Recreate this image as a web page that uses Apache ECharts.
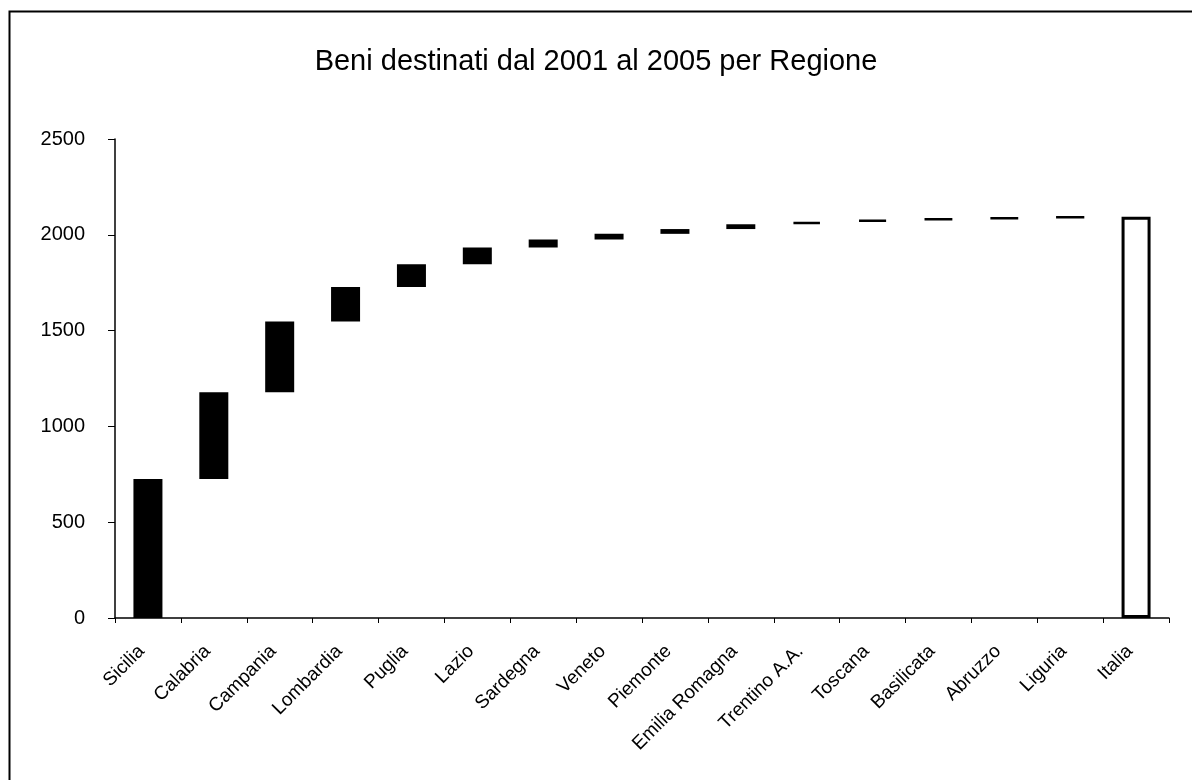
<!DOCTYPE html>
<html>
<head>
<meta charset="utf-8">
<script src="https://cdn.jsdelivr.net/npm/echarts@6/dist/echarts.min.js"></script>
<style>
html,body{margin:0;padding:0;background:#fff;}
#chart{width:1192px;height:780px;}
</style>
</head>
<body>
<div id="chart"></div>
<script>
const titleText = 'Beni destinati dal 2001 al 2005 per Regione';
const categories = ['Sicilia','Calabria','Campania','Lombardia','Puglia','Lazio','Sardegna','Veneto','Piemonte','Emilia Romagna','Trentino A.A.','Toscana','Basilicata','Abruzzo','Liguria','Italia'];
const increments = [725,453,369,181,118,88,42,29,25,25,13,10,6,6,4];
const totalItalia = 2094;
const yTicks = [0,500,1000,1500,2000,2500];

// derived: invisible bases for the waterfall
const bases = [];
let run = 0;
for (let i = 0; i < increments.length; i++) { bases.push(run); run += increments[i]; }
bases.push(0);
const steps = increments.concat(['-']);
const totalData = increments.map(() => '-').concat([totalItalia]);

const FONT = 'Liberation Sans, Arial, sans-serif';
const chart = echarts.init(document.getElementById('chart'));
chart.setOption({
  animation: false,
  backgroundColor: '#fff',
  graphic: [{
    type: 'rect', left: 7, top: 9, shape: {x:0, y:0, width: 1300, height: 900},
    style: {fill: 'none', stroke: '#000', lineWidth: 2}, silent: true
  }],
  title: {
    text: titleText, left: 'center', top: 42,
    textStyle: {fontFamily: FONT, fontSize: 29, fontWeight: 'normal', color: '#000'}
  },
  grid: {left: 115, right: 23, top: 139, bottom: 162},
  xAxis: {
    type: 'category', data: categories,
    axisLine: {lineStyle: {color: '#000', width: 1.5}},
    axisTick: {show: true, length: 5, lineStyle: {color: '#000'}},
    axisLabel: {rotate: 45, interval: 0, margin: 24, padding: [0, 9, 0, 0], color: '#000', fontSize: 19, fontFamily: FONT}
  },
  yAxis: {
    type: 'value', min: 0, max: 2500, interval: 500,
    axisLine: {show: true, lineStyle: {color: '#000', width: 1.5}},
    axisTick: {show: true, length: 7, lineStyle: {color: '#000'}},
    splitLine: {show: false},
    axisLabel: {color: '#000', fontSize: 20, margin: 30, fontFamily: FONT,
      formatter: v => yTicks.includes(v) ? String(v) : ''}
  },
  series: [
    {type: 'bar', stack: 'w', data: bases, barWidth: 29, itemStyle: {color: 'transparent'}, silent: true},
    {type: 'bar', stack: 'w', data: steps, barWidth: 29, itemStyle: {color: '#000', borderColor: '#000', borderWidth: 2.5}},
    {type: 'bar', stack: 'w', data: totalData, barWidth: 29, itemStyle: {color: '#fff', borderColor: '#000', borderWidth: 3}}
  ]
});
</script>
</body>
</html>
